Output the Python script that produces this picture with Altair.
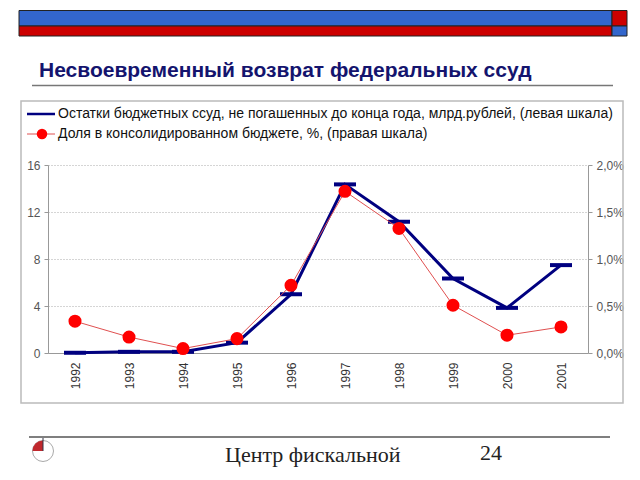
import altair as alt
import pandas as pd

years = ["1992", "1993", "1994", "1995", "1996", "1997", "1998", "1999", "2000", "2001"]
loans = [0.02, 0.1, 0.1, 0.88, 5.0, 14.35, 11.17, 6.34, 3.84, 7.48]
share = [0.338, 0.17, 0.047, 0.153, 0.72, 1.72, 1.325, 0.508, 0.189, 0.277]

title_text = "Несвоевременный возврат федеральных ссуд"
legend_blue = "Остатки бюджетных ссуд, не погашенных до конца года, млрд.рублей, (левая шкала)"
legend_red = "Доля в консолидированном бюджете, %, (правая шкала)"
footer_text = "Центр фискальной"
footer_text2 = "политики"
page_no = "24"
left_ticks = [0, 4, 8, 12, 16]
right_ticks = [0, 0.5, 1.0, 1.5, 2.0]

df = pd.DataFrame({"year": years, "loans": loans, "share": share})
one = pd.DataFrame({"k": [0]})

FONT = "Liberation Sans"
NAVY = "#000080"
RED = "#ff0000"

xenc = alt.X("year:O", scale=alt.Scale(type="point", padding=0.5, domain=years),
             axis=alt.Axis(title=None, labelAngle=270, ticks=False, labelPadding=9,
                           labelFont=FONT, labelFontSize=12, labelColor="#333",
                           domainColor="#999", domainWidth=1))

base = alt.Chart(df)

blue_line = base.mark_line(color=NAVY, strokeWidth=3).encode(
    x=xenc,
    y=alt.Y("loans:Q", scale=alt.Scale(domain=[0, 16], nice=False),
            axis=alt.Axis(title=None, orient="left", values=left_ticks, tickSize=4,
                          tickColor="#999", labelPadding=4, labelFont=FONT,
                          labelFontSize=12, labelColor="#555", domainColor="#999",
                          grid=True, gridColor="#aaa", gridDash=[1, 2])))
blue_tick = base.mark_tick(color=NAVY, size=22, thickness=4, opacity=1).encode(
    x=xenc,
    y=alt.Y("loans:Q", scale=alt.Scale(domain=[0, 16], nice=False), axis=None))
red_line = base.mark_line(color="#e05050", strokeWidth=1).encode(
    x=xenc,
    y=alt.Y("share:Q", scale=alt.Scale(domain=[0, 2], nice=False),
            axis=alt.Axis(title=None, orient="right", values=right_ticks, tickSize=4,
                          tickColor="#999", labelPadding=4, labelFont=FONT,
                          labelFontSize=12, labelColor="#555", domainColor="#999",
                          grid=False,
                          labelExpr="replace(format(datum.value, '.1f'), '.', ',') + '%'")))
red_pt = base.mark_point(filled=True, shape="circle", size=170, color=RED, opacity=1).encode(
    x=xenc,
    y=alt.Y("share:Q", scale=alt.Scale(domain=[0, 2], nice=False), axis=None))

d = alt.Chart(one)

def rect(x1, x2, y1, y2, fill, stroke="#222", sw=1):
    return d.mark_rect(fill=fill, stroke=stroke, strokeWidth=sw).encode(
        x=alt.value(x1), x2=alt.value(x2), y=alt.value(y1), y2=alt.value(y2))

def hline(x1, x2, y, color, w):
    return d.mark_rule(color=color, strokeWidth=w).encode(
        x=alt.value(x1), x2=alt.value(x2), y=alt.value(y))

def text(s, x, y, size, color="#111", font=FONT, weight="normal", baseline="middle"):
    return d.mark_text(align="left", baseline=baseline, font=font, fontSize=size,
                       color=color, fontWeight=weight).encode(
        x=alt.value(x), y=alt.value(y), text=alt.value(s))

box = d.mark_rect(fillOpacity=0, fill="white", stroke="#bbb", strokeWidth=1.5).encode(
    x=alt.value(-27), x2=alt.value(575), y=alt.value(-64), y2=alt.value(238))

decor = [
    rect(-29, 564, -154.5, -139, "#3366cc"),
    rect(-29, 564, -139, -129, "#cc0000"),
    rect(564, 579, -154.5, -139, "#cc0000"),
    rect(564, 579, -139, -129, "#3366cc"),
    text(title_text, -9, -88, 21, color="#14146e", weight="bold", baseline="alphabetic"),
    hline(-16, 565, -79.5, "#777", 1.5),
    box,
    hline(-21, 7, -51, NAVY, 2.5),
    text(legend_blue, 10, -51, 14),
    hline(-21, 7, -31, "#e05050", 1),
    d.mark_point(filled=True, shape="circle", size=110, color=RED, opacity=1).encode(
        x=alt.value(-6), y=alt.value(-31)),
    text(legend_red, 10, -31, 14),
    hline(-19, 562, 272, "#555", 1.5),
    d.mark_point(filled=False, shape="circle", size=441, color="#aaa", strokeWidth=1, opacity=1).encode(
        x=alt.value(-5), y=alt.value(286)),
    d.mark_arc(radius=10.5, theta=4.712, theta2=6.283, color="#c0282d").encode(
        x=alt.value(-5), y=alt.value(286)),
    d.mark_rule(color="#334", strokeWidth=1).encode(
        x=alt.value(-5), y=alt.value(273), y2=alt.value(286)),
    text(footer_text, 177, 297, 22, color="#222", font="Liberation Serif", baseline="alphabetic"),
    text(page_no, 432, 295, 22, color="#222", font="Liberation Serif", baseline="alphabetic"),
    text(footer_text2, 177, 325, 22, color="#222", font="Liberation Serif", baseline="alphabetic"),
]

chart = alt.layer(*decor, blue_line, blue_tick, red_line, red_pt).resolve_scale(
    y="independent"
).properties(
    width=540, height=188,
    padding={"left": 40, "top": 157, "right": 44, "bottom": 114},
    autosize=alt.AutoSizeParams(type="none"),
    background="white",
).configure_view(stroke=None)

chart.save("out.html", embed_options={"renderer": "svg", "actions": False})
